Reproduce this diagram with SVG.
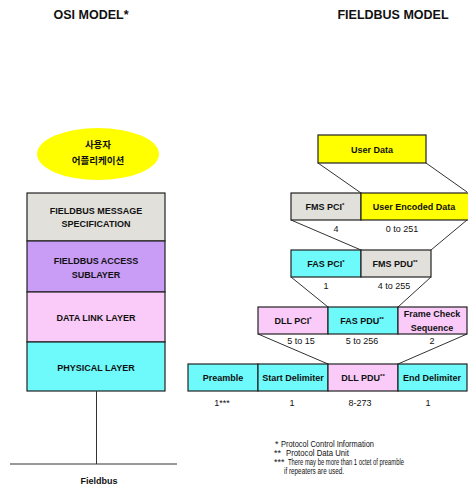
<svg xmlns="http://www.w3.org/2000/svg" width="468" height="495" viewBox="0 0 468 495">
<style>
.t{font-family:"Liberation Sans",Arial,sans-serif;font-weight:bold;fill:#111;text-anchor:middle}
.k{font-family:"Noto Sans CJK KR","Liberation Sans",sans-serif;font-weight:bold;font-size:9.5px;fill:#111;text-anchor:middle}
.h{font-size:12.5px}
.b{font-size:9px}
.n{font-family:"Liberation Sans",Arial,sans-serif;font-size:9px;fill:#111;text-anchor:middle}
.f{font-family:"Liberation Sans",Arial,sans-serif;font-size:9px;fill:#111}
.box{stroke:#222;stroke-width:1.2}
.gray{fill:#E2E0DA}
.purple{fill:#C99CF6}
.pink{fill:#FACAF8}
.cyan{fill:#6EFAFA}
.yellow{fill:#FFFF00}
.ln{stroke:#333;stroke-width:1;fill:none}
.sup{font-size:6px}
</style>
<rect width="468" height="495" fill="#fff"/>
<text class="t h" x="91" y="19">OSI MODEL*</text>
<text class="t h" x="393" y="19">FIELDBUS MODEL</text>

<g id="user-app">
<ellipse cx="98" cy="154" rx="61" ry="26" fill="#FFFF00"/>
<text class="k" x="98" y="148">사용자</text>
<text class="k" x="98" y="164">어플리케이션</text>
</g>
<g id="osi-fms">
<rect class="box gray" x="27" y="193" width="138" height="48"/>
<text class="t b" x="96" y="214">FIELDBUS MESSAGE</text>
<text class="t b" x="96" y="227">SPECIFICATION</text>
</g>
<g id="osi-fas">
<rect class="box purple" x="27" y="241" width="138" height="51"/>
<text class="t b" x="96" y="264">FIELDBUS ACCESS</text>
<text class="t b" x="96" y="278">SUBLAYER</text>
</g>
<g id="osi-dll">
<rect class="box pink" x="27" y="292" width="138" height="50"/>
<text class="t b" x="96" y="321">DATA LINK LAYER</text>
</g>
<g id="osi-phy">
<rect class="box cyan" x="27" y="342" width="138" height="49"/>
<text class="t b" x="96" y="371">PHYSICAL LAYER</text>
</g>
<g id="fieldbus">
<text class="t b" x="99" y="484">Fieldbus</text>
</g>

<g id="connectors">
<line class="ln" x1="96.5" y1="391" x2="96.5" y2="464"/>
<line class="ln" x1="10" y1="464" x2="177" y2="464"/>
<line class="ln" x1="318" y1="163" x2="361" y2="193"/>
<line class="ln" x1="426" y1="163" x2="467" y2="192"/>
<line class="ln" x1="291" y1="220" x2="361" y2="250"/>
<line class="ln" x1="467" y1="220" x2="431" y2="250"/>
<line class="ln" x1="291" y1="277" x2="328" y2="307"/>
<line class="ln" x1="431" y1="277" x2="398" y2="307"/>
<line class="ln" x1="258" y1="334" x2="328" y2="364"/>
<line class="ln" x1="467" y1="334" x2="398" y2="364"/>
</g>

<g id="user-data">
<rect class="box yellow" x="318" y="135" width="108" height="28"/>
<text class="t b" x="372" y="153">User Data</text>
</g>
<g id="fms-pci">
<rect class="box gray" x="291" y="193" width="70" height="27"/>
<text class="t b" x="325" y="210">FMS PCI<tspan class="sup" dy="-3">*</tspan></text>
<text class="n" x="336" y="232">4</text>
</g>
<g id="user-encoded">
<rect class="box yellow" x="361" y="193" width="108" height="27"/>
<text class="t b" x="414" y="210">User Encoded Data</text>
<text class="n" x="402" y="232">0 to 251</text>
</g>
<g id="fas-pci">
<rect class="box cyan" x="291" y="250" width="70" height="27"/>
<text class="t b" x="326" y="267">FAS PCI<tspan class="sup" dy="-3">*</tspan></text>
<text class="n" x="326" y="289">1</text>
</g>
<g id="fms-pdu">
<rect class="box gray" x="361" y="250" width="70" height="27"/>
<text class="t b" x="395" y="267">FMS PDU<tspan class="sup" dy="-3">**</tspan></text>
<text class="n" x="394" y="289">4 to 255</text>
</g>
<g id="dll-pci">
<rect class="box pink" x="258" y="307" width="70" height="27"/>
<text class="t b" x="293" y="324">DLL PCI<tspan class="sup" dy="-3">*</tspan></text>
<text class="n" x="301" y="344">5 to 15</text>
</g>
<g id="fas-pdu">
<rect class="box cyan" x="328" y="307" width="70" height="27"/>
<text class="t b" x="362" y="324">FAS PDU<tspan class="sup" dy="-3">**</tspan></text>
<text class="n" x="362" y="344">5 to 256</text>
</g>
<g id="fcs">
<rect class="box pink" x="398" y="307" width="69" height="27"/>
<text class="t b" x="432" y="317">Frame Check</text>
<text class="t b" x="432" y="331">Sequence</text>
<text class="n" x="432" y="344">2</text>
</g>
<g id="preamble">
<rect class="box cyan" x="188" y="364" width="70" height="27"/>
<text class="t b" x="223" y="381">Preamble</text>
<text class="n" x="222" y="406">1***</text>
</g>
<g id="start-delim">
<rect class="box cyan" x="258" y="364" width="70" height="27"/>
<text class="t b" x="293" y="381">Start Delimiter</text>
<text class="n" x="292" y="406">1</text>
</g>
<g id="dll-pdu">
<rect class="box pink" x="328" y="364" width="70" height="27"/>
<text class="t b" x="363" y="381">DLL PDU<tspan class="sup" dy="-3">**</tspan></text>
<text class="n" x="360" y="406">8-273</text>
</g>
<g id="end-delim">
<rect class="box cyan" x="398" y="364" width="69" height="27"/>
<text class="t b" x="432" y="381">End Delimiter</text>
<text class="n" x="428" y="406">1</text>
</g>

<g id="notes">
<text class="f" x="275" y="447">*</text>
<text class="f" x="281" y="447" textLength="93" lengthAdjust="spacingAndGlyphs">Protocol Control Information</text>
<text class="f" x="274" y="456">**</text>
<text class="f" x="286" y="456" textLength="63" lengthAdjust="spacingAndGlyphs">Protocol Data Unit</text>
<text class="f" x="274" y="465">***</text>
<text class="f" x="288" y="465" textLength="116" lengthAdjust="spacingAndGlyphs">There may be more than 1 octet of preamble</text>
<text class="f" x="284" y="474" textLength="60" lengthAdjust="spacingAndGlyphs">if repeaters are used.</text>
</g>
</svg>
